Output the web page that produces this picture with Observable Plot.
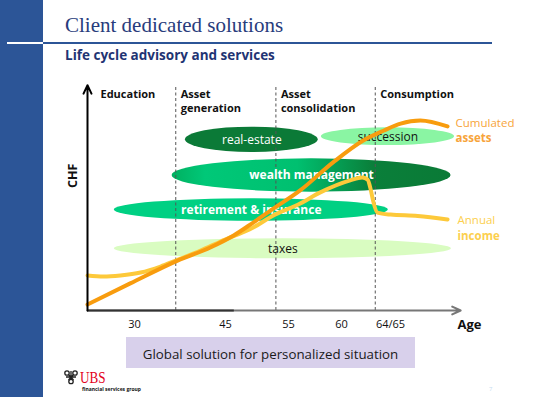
<!DOCTYPE html>
<html>
<head>
<meta charset="utf-8">
<script src="https://cdn.jsdelivr.net/npm/d3@7"></script>
<script src="https://cdn.jsdelivr.net/npm/@observablehq/plot@0.6"></script>
<style>
  html, body { margin:0; padding:0; background:#fff; }
  body { width:539px; height:397px; position:relative; overflow:hidden; font-family:"Open Sans", sans-serif; }
  .abs { position:absolute; white-space:nowrap; }
  #bar { left:0; top:0; width:43px; height:397px; background:#2c5597; }
  #rule { left:43px; top:42px; width:449px; height:2px; background:#2c5597; }
  #rulew { left:7px; top:42px; width:36px; height:2px; background:#fff; }
  #title { left:65px; top:14.7px; font:21px/21px "Liberation Serif", serif; color:#283c7c; }
  #subtitle { left:65px; top:49px; font:bold 13.5px/13.5px "Open Sans", sans-serif; color:#1f3473; }
  #chart { left:0; top:75px; }
  #box { left:126px; top:337px; width:289px; height:31px; background:#d8d0eb; }
  #boxtext { left:126px; width:289px; text-align:center; top:347.5px; font:13.3px/13.3px "Open Sans", sans-serif; color:#1a1a1a; }
  #ubs { left:80px; top:369.6px; font:16px/16px "Liberation Serif", serif; color:#e3001b; transform:scaleX(0.82); transform-origin:left; }
  #fsg { left:82px; top:387px; font:bold 5px/5px "Open Sans", sans-serif; color:#111; }
  #page { left:489px; top:386px; font:6px/6px "Open Sans", sans-serif; color:#c5dcf0; }
  #keys { left:63px; top:369px; }
</style>
</head>
<body>
<div id="bar" class="abs"></div>
<div id="rulew" class="abs"></div>
<div id="rule" class="abs"></div>
<div id="title" class="abs">Client dedicated solutions</div>
<div id="subtitle" class="abs">Life cycle advisory and services</div>
<div id="chart" class="abs"></div>
<div id="box" class="abs"></div>
<div id="boxtext" class="abs">Global solution for personalized situation</div>
<svg id="keys" class="abs" width="16" height="17" viewBox="0 0 16 17">
  <g fill="none" stroke="#222" stroke-width="1.3">
    <circle cx="4" cy="4" r="2.2"/><circle cx="12" cy="4" r="2.2"/><circle cx="8" cy="12.5" r="2.2"/>
    <path d="M5.5 5.5 L10.5 11 M10.5 5.5 L5.5 11 M8 2 L8 10 M3 8 L13 8"/>
  </g>
</svg>
<div id="ubs" class="abs">UBS</div>
<div id="fsg" class="abs">financial services group</div>
<div id="page" class="abs">7</div>
<script>
// ---- data ----
const ageTicks = [30, 45, 55, 60, 64.5];
const ageTickLabels = ["30", "45", "55", "60", "64/65"];
const phaseNames = ["Education", "Asset\ngeneration", "Asset\nconsolidation", "Consumption"];
const phaseStartAge = [20, 36.8, 53.0, 63.1];

const services = ["real-estate", "succession", "wealth management", "retirement & insurance", "taxes"];
const serviceAgeFrom = [38.4, 58.1, 36.2, 25.7, 25.7];
const serviceAgeTo = [57.8, 79.1, 78.3, 64.3, 78.4];
const serviceChfLow = [71.2, 74.3, 53.3, 40.2, 23.3];
const serviceChfHigh = [82.6, 82.3, 68.3, 50.3, 32.3];

const assetAge = [20, 29.1, 37.1, 42.5, 46.3, 49.4, 52.6, 56.1, 59.2, 62.0, 63.9, 66.8, 71.3, 77.5];
const assetChf = [2.7, 12.2, 22.5, 28.4, 33.8, 39.6, 45.9, 54.1, 66.7, 76.6, 81.1, 84.2, 85.6, 82.9];
const incomeAge = [20, 23.4, 27.0, 31.0, 34.3, 36.8, 40.9, 44.2, 49.4, 52.6, 56.1, 58.0, 60.8, 61.9, 62.4, 62.7, 62.9, 63.3, 64.5, 70.7, 77.5];
const incomeChf = [15.8, 15.3, 15.8, 17.1, 19.8, 22.5, 27.0, 31.1, 37.4, 42.8, 48.2, 53.2, 58.6, 59.9, 59.0, 54.1, 49.5, 44.1, 43.2, 42.6, 41.0];

const assetLabel = ["Cumulated", "assets"];
const incomeLabel = ["Annual", "income"];

// ---- build ----
const xDomain = [20, 30, 45, 55, 60, 64.5, 80];
const xRange = [87, 134, 225, 288, 341, 390, 458];
const xs = d3.scaleLinear(xDomain, xRange);

const svc = services.map((name, i) => ({
  name,
  a0: serviceAgeFrom[i], a1: serviceAgeTo[i],
  lo: serviceChfLow[i], hi: serviceChfHigh[i],
  xm: xs.invert((xs(serviceAgeFrom[i]) + xs(serviceAgeTo[i])) / 2),
  ym: (serviceChfLow[i] + serviceChfHigh[i]) / 2
}));
const look = {
  "real-estate": {fill: "#0b7a37", ink: "#ffffff", bold: false},
  "succession": {fill: "#8af5a3", ink: "#111111", bold: false},
  "wealth management": {fill: "url(#g-wm)", ink: "#ffffff", bold: true},
  "retirement & insurance": {fill: "#00d083", ink: "#ffffff", bold: true},
  "taxes": {fill: "#d9fcc1", ink: "#111111", bold: false}
};
const assets = assetAge.map((a, i) => ({age: a, chf: assetChf[i]}));
const income = incomeAge.map((a, i) => ({age: a, chf: incomeChf[i]}));
const lastAsset = assets[assets.length - 1];
const lastIncome = income[income.length - 1];

const chart = Plot.plot({
  width: 539, height: 270,
  marginLeft: 87, marginRight: 81, marginTop: 13, marginBottom: 35,
  x: {type: "linear", domain: xDomain, range: xRange, axis: null},
  y: {domain: [0, 100], axis: null},
  color: {type: "identity"},
  style: {fontFamily: "'Open Sans', sans-serif", background: "transparent", overflow: "visible"},
  marks: [
    Plot.rect(svc, {x1: "a0", x2: "a1", y1: "lo", y2: "hi", fill: d => look[d.name].fill, rx: 1000, ry: 1000}),
    Plot.ruleX(phaseStartAge.slice(1), {y1: 0, y2: 100.5, stroke: "#555", strokeWidth: 1, strokeDasharray: "3,2.5"}),
    Plot.text(svc.filter(d => look[d.name].bold), {x: "xm", y: "ym", text: "name", fill: d => look[d.name].ink, fontWeight: "bold", fontSize: 12}),
    Plot.text(svc.filter(d => !look[d.name].bold), {x: "xm", y: "ym", text: "name", fill: d => look[d.name].ink, fontSize: 12}),
    Plot.line(income, {x: "age", y: "chf", curve: "monotone-x", stroke: "#fdc93a", strokeWidth: 4}),
    Plot.line(assets, {x: "age", y: "chf", curve: "monotone-x", stroke: "#f89c0e", strokeWidth: 4}),
    // axes
    Plot.arrow([0], {x1: xDomain[0], x2: 80.5, y1: 0, y2: 0, stroke: "#777", strokeWidth: 2, headLength: 7, headAngle: 50}),
    Plot.ruleY([0], {x1: xDomain[0], x2: 46.4, stroke: "#333", strokeWidth: 2}),
    Plot.arrow([0], {x1: xDomain[0], x2: xDomain[0], y1: 0, y2: 101.5, stroke: "#000", strokeWidth: 2, headLength: 7, headAngle: 50}),
    Plot.text(ageTicks, {x: d => d, text: (d, i) => ageTickLabels[i], frameAnchor: "bottom", dy: 17, fontSize: 11, fill: "#111"}),
    Plot.text(["Age"], {frameAnchor: "bottom-right", textAnchor: "start", dx: -1, dy: 18, fontWeight: "bold", fontSize: 13, fill: "#111"}),
    Plot.text(["CHF"], {frameAnchor: "left", dx: -15, dy: -11.5, rotate: -90, fontWeight: "bold", fontSize: 12.5, fill: "#111"}),
    // phases
    Plot.text([phaseNames[0]], {x: phaseStartAge[0], frameAnchor: "top", lineAnchor: "top", textAnchor: "start", dx: 13, fontWeight: "bold", fontSize: 11, lineHeight: 1.25, fill: "#111"}),
    Plot.text(phaseNames.slice(1), {x: (d, i) => phaseStartAge[i + 1], frameAnchor: "top", lineAnchor: "top", textAnchor: "start", dx: 5, fontWeight: "bold", fontSize: 11, lineHeight: 1.25, fill: "#111"}),
    // curve labels (two-line, second line bold)
    Plot.text([lastAsset], {x: "age", y: "chf", text: () => assetLabel.join("\n"), lineAnchor: "top", lineHeight: 1.37, textAnchor: "start", dx: 8, dy: -10.9, fill: "#f7a43a", fontSize: 11.5}),
    Plot.text([lastIncome], {x: "age", y: "chf", text: () => incomeLabel.join("\n"), lineAnchor: "top", lineHeight: 1.37, textAnchor: "start", dx: 10, dy: -6.2, fill: "#fccf4e", fontSize: 11.5})
  ]
});

const defs = d3.select(chart).insert("defs", ":first-child");
const gw = defs.append("linearGradient").attr("id", "g-wm").attr("x1", 0).attr("x2", 1).attr("y1", 0).attr("y2", 0);
[[0, "#00b060"], [0.12, "#00c878"], [0.45, "#00c070"], [0.72, "#0a7f3a"], [1, "#0a7a36"]]
  .forEach(([o, c]) => gw.append("stop").attr("offset", o).attr("stop-color", c));

d3.select(chart).selectAll("tspan")
  .filter(function () { return this.textContent === assetLabel[1] || this.textContent === incomeLabel[1]; })
  .attr("font-weight", "bold");

document.getElementById("chart").appendChild(chart);
</script>
</body>
</html>
